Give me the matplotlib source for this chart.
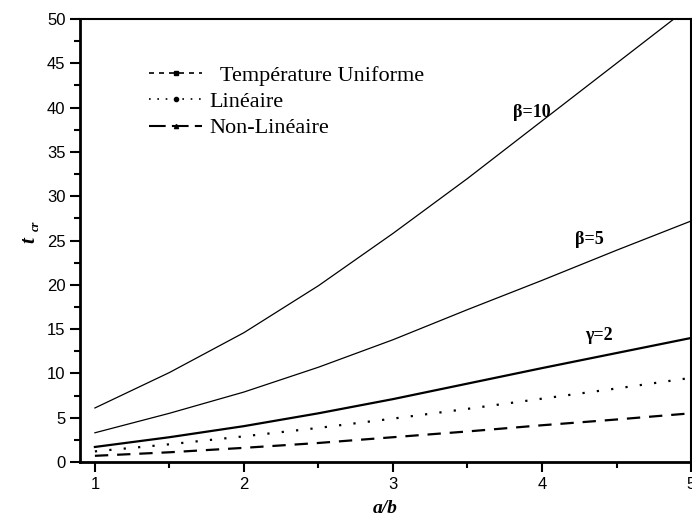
import matplotlib
matplotlib.use("Agg")
import matplotlib.pyplot as plt
from matplotlib.lines import Line2D
from matplotlib.ticker import MultipleLocator

# rapport a/b et charge critique t_cr
ab = [1.0, 1.5, 2.0, 2.5, 3.0, 3.5, 4.0, 4.5, 5.0]
t_uniforme = [0.7, 1.1, 1.6, 2.15, 2.8, 3.45, 4.15, 4.8, 5.5]
t_lineaire = [1.2, 2.0, 2.9, 3.85, 4.9, 6.0, 7.15, 8.3, 9.5]
t_gamma2 = [1.7, 2.8, 4.05, 5.5, 7.1, 8.85, 10.6, 12.3, 14.0]
t_beta5 = [3.3, 5.5, 7.9, 10.7, 13.8, 17.2, 20.5, 23.9, 27.2]
t_beta10 = [6.1, 10.1, 14.6, 19.9, 25.8, 32.0, 38.5, 45.0, 51.5]

plt.rcParams["font.family"] = "Liberation Sans"

fig = plt.figure(figsize=(6.92, 5.21), dpi=100)
ax = fig.add_axes([0.1156, 0.1132, 0.883, 0.8503])

ax.plot(ab, t_uniforme, color="k", lw=1.6, linestyle=(0, (6, 4)))
ax.plot(ab, t_lineaire, color="k", lw=1.6, linestyle=(0, (1, 5.5)))
ax.plot(ab, t_gamma2, color="k", lw=1.6)
ax.plot(ab, t_beta5, color="k", lw=0.9)
ax.plot(ab, t_beta10, color="k", lw=0.9)

ax.set_xlim(0.9, 5)
ax.set_ylim(0, 50)
ax.xaxis.set_major_locator(MultipleLocator(1))
ax.xaxis.set_minor_locator(MultipleLocator(0.5))
ax.yaxis.set_major_locator(MultipleLocator(5))
ax.yaxis.set_minor_locator(MultipleLocator(2.5))
ax.tick_params(which="both", direction="out", width=1.5, labelsize=12, top=False, right=False)
ax.tick_params(which="major", length=7)
ax.tick_params(which="minor", length=4)
for side in ["left", "bottom"]:
    ax.spines[side].set_linewidth(2)
for side in ["top", "right"]:
    ax.spines[side].set_linewidth(1.5)

ax.set_xlabel("a/b", family="Liberation Serif", style="italic", weight="bold", fontsize=14, labelpad=6)
ax.text(-0.083, 0.5, "t", transform=ax.transAxes, rotation=90, ha="center", va="center",
        family="Liberation Serif", style="italic", weight="bold", fontsize=15)
ax.text(-0.073, 0.533, "cr", transform=ax.transAxes, rotation=90, ha="center", va="center",
        family="Liberation Serif", style="italic", weight="bold", fontsize=9)

lab = dict(family="Liberation Serif", weight="bold", fontsize=13, ha="center", va="center")
ax.text(3.93, 39.5, "β=10", **lab)
ax.text(4.32, 25.1, "β=5", **lab)
ax.text(4.38, 14.3, "γ=2", **lab)

handles = [
    Line2D([], [], color="k", lw=1.2, linestyle=(0, (3, 3)), marker="s", markersize=3),
    Line2D([], [], color="k", lw=1.2, linestyle=(0, (1, 4)), marker="o", markersize=3),
    Line2D([], [], color="k", lw=1.5, linestyle=(0, (8, 3)), marker="^", markersize=3),
]
labels = ["  Température Uniforme", "Linéaire", "Non-Linéaire"]
ax.legend(handles, labels, loc="upper left", bbox_to_anchor=(0.08, 0.94), frameon=False,
          numpoints=1, handlelength=2.4, handletextpad=0.3, labelspacing=0.25,
          prop={"family": "Liberation Serif", "size": 16})

fig.savefig("out.png", dpi=100)
